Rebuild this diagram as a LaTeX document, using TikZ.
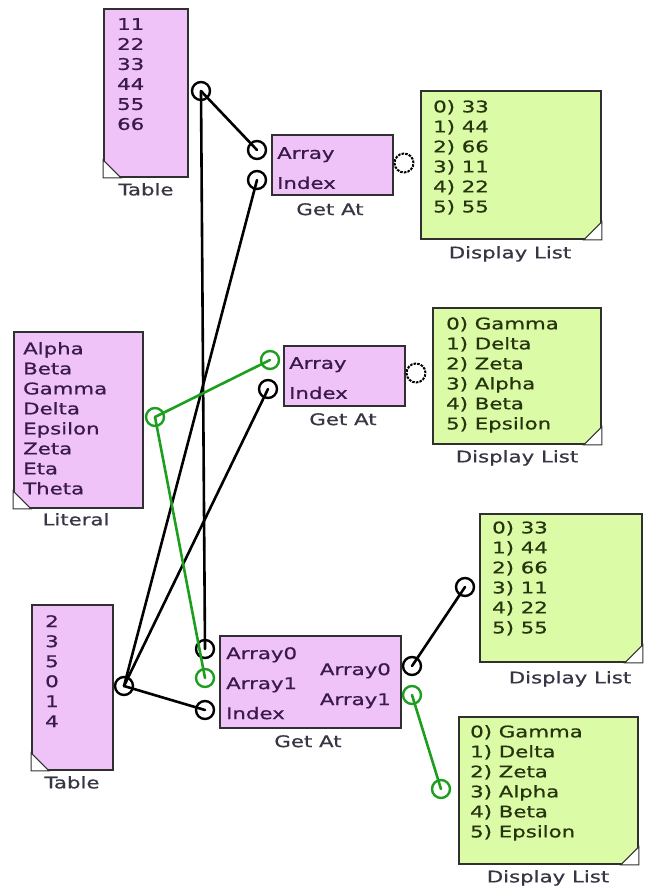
\documentclass[tikz,border=0pt]{standalone}
\usepackage{fontspec}
\setmainfont{DejaVu Sans}[FakeStretch=1.33, FakeBold=0.8]
\definecolor{pinkfill}{HTML}{EFC2F8}
\definecolor{limefill}{HTML}{DCFBA6}
\definecolor{boxline}{HTML}{303030}
\definecolor{wiregreen}{HTML}{1E9E1E}
\definecolor{txtpink}{HTML}{3A1A4A}
\definecolor{txtlime}{HTML}{26340E}
\definecolor{lbltxt}{HTML}{363644}
\begin{document}
\begin{tikzpicture}[x=1pt,y=-1pt,
    box/.style={draw=boxline, line width=1.8pt, anchor=north west, inner sep=0},
    pinkbox/.style={box, fill=pinkfill},
    limebox/.style={box, fill=limefill},
    listtxt/.style={anchor=north west, inner sep=0, align=left, font=\fontsize{16}{20}\selectfont},
    porttxt/.style={anchor=north west, inner sep=0, align=left, text=txtpink, font=\fontsize{16}{30}\selectfont},
    lbl/.style={anchor=north, inner sep=0, text=lbltxt, font=\fontsize{16}{20}\selectfont},
    pin/.style={circle, draw=black, line width=2.4pt, minimum size=18pt, inner sep=0},
    pinG/.style={pin, draw=wiregreen},
    freepin/.style={pin, minimum size=19pt, line width=2pt, dash pattern=on 2.5pt off 1.2pt},
    wire/.style={line width=2.6pt, line cap=round},
    wireG/.style={wire, draw=wiregreen},
    corner/.style={fill=white, draw=boxline, line width=1pt}]
    \useasboundingbox (0,0) rectangle (649,890);
    % Boxes
    \node[pinkbox, minimum width=84, minimum height=168] (tabA) at (103,8) {};
    \node[pinkbox, minimum width=129, minimum height=176] (lit) at (13,331) {};
    \node[pinkbox, minimum width=81, minimum height=165] (tabB) at (31,604) {};
    \node[pinkbox, minimum width=121, minimum height=60] (getA) at (271,134) {};
    \node[pinkbox, minimum width=121, minimum height=60] (getB) at (283,345) {};
    \node[pinkbox, minimum width=181, minimum height=92] (getC) at (219,635) {};
    \node[limebox, minimum width=180, minimum height=148] (listA) at (420,90) {};
    \node[limebox, minimum width=168, minimum height=136] (listB) at (432,307) {};
    \node[limebox, minimum width=162, minimum height=148] (listC) at (479,513) {};
    \node[limebox, minimum width=179, minimum height=147] (listD) at (458,716) {};
    % Corner marks
    \foreach \b in {tabA,lit,tabB}
        \draw[corner] (\b.south west) -- ++(0,-18) -- ++(18,18) -- cycle;
    \foreach \b in {listA,listB,listC,listD}
        \draw[corner] (\b.south east) -- ++(0,-18) -- ++(-18,18) -- cycle;
    % Box contents
    \node[listtxt, text=txtpink] (tabA-txt) at (117,18) {11\\22\\33\\44\\55\\66};
    \node[listtxt, text=txtpink] (lit-txt) at (23,342) {Alpha\\Beta\\Gamma\\Delta\\Epsilon\\Zeta\\Eta\\Theta};
    \node[listtxt, text=txtpink] (tabB-txt) at (45,615) {2\\3\\5\\0\\1\\4};
    \node[porttxt] (getA-txt) at (277,147) {Array\\Index};
    \node[porttxt] (getB-txt) at (289,357) {Array\\Index};
    \node[porttxt] (getC-in) at (226,647) {Array0\\Array1\\Index};
    \node[porttxt, anchor=north east, align=right] (getC-out) at (391,663) {Array0\\Array1};
    \node[listtxt, text=txtlime] (listA-txt) at (433,100) {0) 33\\1) 44\\2) 66\\3) 11\\4) 22\\5) 55};
    \node[listtxt, text=txtlime] (listB-txt) at (446,317) {0) Gamma\\1) Delta\\2) Zeta\\3) Alpha\\4) Beta\\5) Epsilon};
    \node[listtxt, text=txtlime] (listC-txt) at (492,521) {0) 33\\1) 44\\2) 66\\3) 11\\4) 22\\5) 55};
    \node[listtxt, text=txtlime] (listD-txt) at (470,725) {0) Gamma\\1) Delta\\2) Zeta\\3) Alpha\\4) Beta\\5) Epsilon};
    % Labels
    \node[lbl] (tabA-lbl) at (146,183) {Table};
    \node[lbl] (lit-lbl) at (76,513) {Literal};
    \node[lbl] (tabB-lbl) at (72,776) {Table};
    \node[lbl] (getA-lbl) at (330,203) {Get At};
    \node[lbl] (getB-lbl) at (343,413) {Get At};
    \node[lbl] (getC-lbl) at (308,735) {Get At};
    \node[lbl] (listA-lbl) at (510,246) {Display List};
    \node[lbl] (listB-lbl) at (517,450) {Display List};
    \node[lbl] (listC-lbl) at (570,671) {Display List};
    \node[lbl] (listD-lbl) at (548,870) {Display List};
    % Pins
    \node[pin] (tabA-out) at (201,91) {};
    \node[pinG] (lit-out) at (155,417) {};
    \node[pin] (tabB-out) at (124,686) {};
    \node[pin] (getA-arr) at (257,150) {};
    \node[pin] (getA-idx) at (257,180) {};
    \node[freepin] (getA-res) at (404,163) {};
    \node[pinG] (getB-arr) at (270,360) {};
    \node[pin] (getB-idx) at (268,389) {};
    \node[freepin] (getB-res) at (416,373) {};
    \node[pin] (getC-a0) at (205,649) {};
    \node[pinG] (getC-a1) at (205,678) {};
    \node[pin] (getC-idx) at (205,710) {};
    \node[pin] (getC-r0) at (412,666) {};
    \node[pinG] (getC-r1) at (412,695) {};
    \node[pin] (listC-in) at (465,587) {};
    \node[pinG] (listD-in) at (441,789) {};
    % Wires
    \draw[wire] (tabA-out.center) -- (getA-arr.center);
    \draw[wire] (tabA-out.center) -- (getC-a0.center);
    \draw[wire] (tabB-out.center) -- (getA-idx.center);
    \draw[wire] (tabB-out.center) -- (getB-idx.center);
    \draw[wire] (tabB-out.center) -- (getC-idx.center);
    \draw[wireG] (lit-out.center) -- (getB-arr.center);
    \draw[wireG] (lit-out.center) -- (getC-a1.center);
    \draw[wire] (getC-r0.center) -- (listC-in.center);
    \draw[wireG] (getC-r1.center) -- (listD-in.center);
\end{tikzpicture}
\end{document}
